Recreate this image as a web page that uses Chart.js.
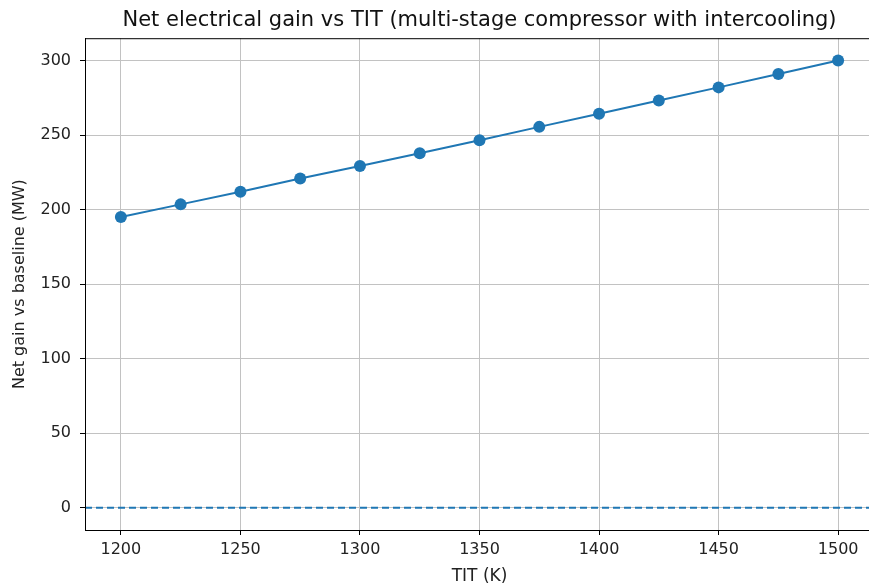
<!DOCTYPE html>
<html>
<head>
<meta charset="utf-8">
<script src="https://cdn.jsdelivr.net/npm/chart.js@4"></script>
<style>
  html, body { margin: 0; padding: 0; background: #fff; overflow: hidden; }
  #wrap { width: 880px; height: 588px; }
</style>
</head>
<body>
<div id="wrap"><canvas id="gainChart"></canvas></div>
<script>
// Net gain vs TIT
var tit = [1200, 1225, 1250, 1275, 1300, 1325, 1350, 1375, 1400, 1425, 1450, 1475, 1500];
var netGain = [195, 203.5, 212, 220.8, 229.2, 237.8, 246.5, 255.5, 264.3, 273.2, 282, 291, 300];
var xTicks = [1200, 1250, 1300, 1350, 1400, 1450, 1500];
var yTicks = [0, 50, 100, 150, 200, 250, 300];
var xRange = [1185, 1515];
var yRange = [-15, 315];
var baseline = [0, 0];

var blue = '#1f77b4';

// frame around the plot area (matplotlib spines)
var frame = {
    id: 'frame',
    afterDraw: function (chart) {
        var a = chart.chartArea;
        var ctx = chart.ctx;
        ctx.save();
        ctx.strokeStyle = '#000';
        ctx.lineWidth = 1;
        ctx.strokeRect(a.left + 0.5, a.top + 0.5, a.right - a.left, a.bottom - a.top);
        ctx.restore();
    }
};

function fixedTicks(values) {
    return function (scale) {
        scale.ticks = values.map(function (v) { return { value: v }; });
    };
}

function plain(v) { return String(v); }

var data = {
    datasets: [{
        label: 'gain',
        data: tit.map(function (t, i) { return { x: t, y: netGain[i] }; }),
        borderColor: blue,
        backgroundColor: blue,
        borderWidth: 2,
        pointRadius: 6,
        pointHoverRadius: 6,
        pointBorderWidth: 0
    }, {
        label: 'baseline',
        data: xRange.map(function (x, i) { return { x: x, y: baseline[i] }; }),
        borderColor: blue,
        borderWidth: 2,
        borderDash: [7, 4],
        pointRadius: 0
    }]
};

var config = {
    type: 'line',
    data: data,
    plugins: [frame],
    options: {
        responsive: true,
        maintainAspectRatio: false,
        animation: false,
        layout: { padding: { left: 0, right: 3, top: 0, bottom: 0 } },
        plugins: {
            legend: { display: false },
            tooltip: { enabled: false },
            title: {
                display: true,
                fullSize: false,
                text: 'Net electrical gain vs TIT (multi-stage compressor with intercooling)',
                color: '#111',
                font: { family: 'DejaVu Sans', size: 21, weight: 'normal' },
                padding: { top: 8, bottom: 5 }
            }
        },
        scales: {
            x: {
                type: 'linear',
                min: xRange[0],
                max: xRange[1],
                afterBuildTicks: fixedTicks(xTicks),
                afterFit: function (s) { s.height = 58; },
                ticks: {
                    callback: plain,
                    color: '#222',
                    font: { family: 'DejaVu Sans', size: 16 },
                    padding: 5,
                    maxRotation: 0,
                    autoSkip: false
                },
                grid: { color: '#c2c2c2', tickColor: '#000', tickLength: 5 },
                border: { color: '#000' },
                title: {
                    display: true,
                    text: 'TIT (K)',
                    color: '#222',
                    font: { family: 'DejaVu Sans', size: 17 },
                    padding: { top: 2, bottom: 1 }
                }
            },
            y: {
                type: 'linear',
                min: yRange[0],
                max: yRange[1],
                afterBuildTicks: fixedTicks(yTicks),
                afterFit: function (s) { s.width = 85; },
                ticks: {
                    callback: plain,
                    color: '#222',
                    font: { family: 'DejaVu Sans', size: 16 },
                    padding: 9,
                    autoSkip: false
                },
                grid: { color: '#c2c2c2', tickColor: '#000', tickLength: 5 },
                border: { color: '#000' },
                title: {
                    display: true,
                    text: 'Net gain vs baseline (MW)',
                    color: '#222',
                    font: { family: 'DejaVu Sans', size: 16 },
                    padding: { top: 10, bottom: 0 }
                }
            }
        }
    }
};

var gainChart = new Chart(document.getElementById('gainChart'), config);
</script>
</body>
</html>
